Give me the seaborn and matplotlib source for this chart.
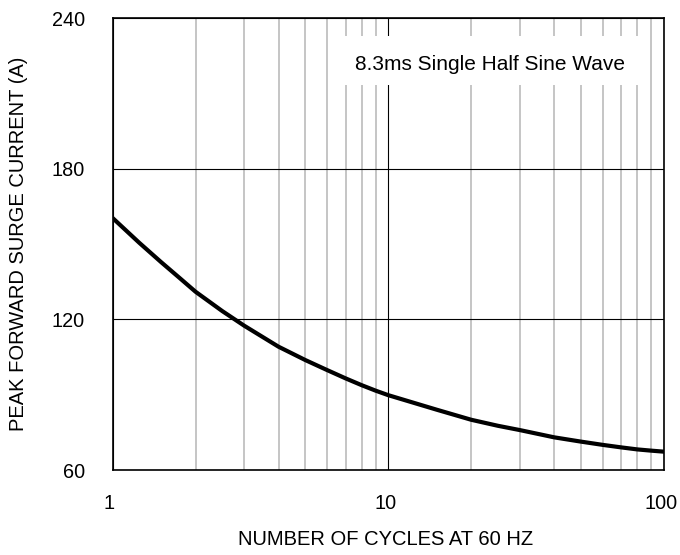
import matplotlib
matplotlib.use("Agg")
import matplotlib.pyplot as plt
from matplotlib.patches import Rectangle
from matplotlib.ticker import FixedLocator, NullFormatter
from matplotlib.transforms import ScaledTranslation
import seaborn as sns
import pandas as pd

# data
cycles = [1, 1.25, 1.5, 1.75, 2, 2.5, 3, 4, 5, 6, 7, 8, 9, 10, 15, 20, 25, 30,
          40, 50, 60, 70, 80, 90, 100]
current = [160.4, 150.5, 142.8, 136.5, 131.0, 123.3, 117.5, 109.1, 103.8, 99.8, 96.5,
           93.8, 91.6, 89.8, 84.0, 80.0, 77.6, 75.9, 73.0, 71.3, 70.0, 69.0, 68.2,
           67.7, 67.3]
y_ticks = [60, 120, 180, 240]
x_ticks = [1, 10, 100]
x_ticklabels = ["1", "10", "100"]
annotation = "8.3ms Single Half Sine Wave"
xlabel = "NUMBER OF CYCLES AT 60 HZ"
ylabel = "PEAK FORWARD SURGE CURRENT (A)"

sns.set_theme(style="white")
plt.rcParams["font.family"] = ["Liberation Sans", "DejaVu Sans"]

df = pd.DataFrame({"cycles": cycles, "current": current})

fig = plt.figure(figsize=(6.8, 5.55), dpi=100)
ax = fig.add_axes([112.5 / 680, 1 - 470 / 555, (664 - 112.5) / 680, (470 - 18) / 555])

sns.lineplot(data=df, x="cycles", y="current", ax=ax, color="black", linewidth=3.0,
             zorder=5)
ax.set_xscale("log")
ax.set_xlim(1, 100)
ax.set_ylim(60, 240)

minor = [m * d for d in (1, 10) for m in range(2, 10)]
ax.xaxis.set_major_locator(FixedLocator(x_ticks))
ax.xaxis.set_minor_locator(FixedLocator(minor))
ax.xaxis.set_minor_formatter(NullFormatter())
ax.set_xticks(x_ticks)
ax.set_xticklabels(x_ticklabels)
ax.set_yticks(y_ticks)

ax.grid(True, which="minor", axis="x", color="#c0c0c0", linewidth=1.3, zorder=1)
ax.grid(True, which="major", axis="both", color="black", linewidth=0.8, zorder=2)
ax.set_axisbelow(True)

ax.tick_params(axis="both", which="both", length=0, labelsize=14.3, colors="black")
ax.tick_params(axis="x", pad=17)
ax.tick_params(axis="y", pad=20)
shift = ScaledTranslation(-3 / 100, 0, fig.dpi_scale_trans)
for lab in ax.get_xticklabels():
    lab.set_transform(lab.get_transform() + shift)

for s in ax.spines.values():
    s.set_color("black")
    s.set_linewidth(1.2)
    s.set_zorder(6)

ax.set_xlabel(xlabel, fontsize=14.5, color="black")
ax.set_ylabel(ylabel, fontsize=14.5, color="black")
ax.xaxis.set_label_coords((386 - 112.5) / 551.5, (470 - 530) / 452)
ax.yaxis.set_label_coords((28 - 112.5) / 551.5, 0.5)

# white box behind the annotation
ax.add_patch(Rectangle((0.405, 0.852), 0.56, 0.108, transform=ax.transAxes,
                       facecolor="white", edgecolor="none", zorder=3))
ax.text((490 - 112.5) / 551.5, (470 - 65) / 452, annotation, transform=ax.transAxes,
        ha="center", va="center", fontsize=15.0, color="black", zorder=4)

fig.savefig("out.png", dpi=100)
